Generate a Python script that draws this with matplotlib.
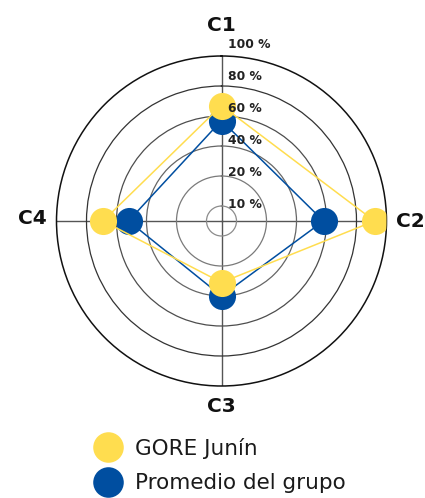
import numpy as np
import matplotlib
matplotlib.use("Agg")
import matplotlib.pyplot as plt
from matplotlib.lines import Line2D

categories = ["C1", "C2", "C3", "C4"]
gore_junin = [67, 92, 31, 69]
promedio = [57, 58, 40, 52]
series_names = ["GORE Junín", "Promedio del grupo"]
r_ticks = [0, 20, 40, 60, 80, 100]
r_tick_labels = ["10 %", "20 %", "40 %", "60 %", "80 %", "100 %"]

YELLOW = "#FFDD4F"
BLUE = "#004EA0"

fig = plt.figure(figsize=(4.25, 4.98), dpi=100)
fig.patch.set_facecolor("white")
ax = fig.add_axes([56.5 / 425, (277 - 165) / 498, 330 / 425, 330 / 498], projection="polar")
ax.set_theta_zero_location("N")
ax.set_theta_direction(-1)
ax.set_ylim(-10, 100)

angles = np.arange(len(categories)) * 2 * np.pi / len(categories)
closed = np.concatenate([angles, angles[:1]])

ax.set_xticks(angles)
ax.set_xticklabels([])
ax.set_yticks(r_ticks[:-1])
ax.set_yticklabels([])
ax.tick_params(length=0)
ax.xaxis.grid(True, color="#555555", linewidth=1.0)
ax.yaxis.grid(True, linewidth=0.9)
grid_cols = ["#8c8c8c", "#7a7a7a", "#666666", "#4d4d4d", "#333333"]
for gl, c in zip(ax.yaxis.get_gridlines(), grid_cols):
    gl.set_color(c)
ax.spines["polar"].set_color("#111111")
ax.spines["polar"].set_linewidth(1.1)

bv = promedio + promedio[:1]
yv = gore_junin + gore_junin[:1]
ax.plot(closed, bv, color=BLUE, linewidth=1.1, zorder=3)
ax.plot(angles, promedio, "o", color=BLUE, markersize=19.5, markeredgewidth=0, zorder=4)
ax.plot(closed, yv, color=YELLOW, linewidth=1.1, zorder=5)
ax.plot(angles, gore_junin, "o", color=YELLOW, markersize=19.5, markeredgewidth=0, zorder=6)

# category labels
offsets = [(0, 22), (17, 0), (0, -15), (-17.5, 1.5)]
for ang, cat, off in zip(angles, categories, offsets):
    ax.annotate(cat, xy=(ang, 100), xytext=off, textcoords="offset points",
                ha="center", va="center", fontsize=14.5, fontweight="bold",
                color="#111111", annotation_clip=False)

# radial labels
for k, lab in enumerate(r_tick_labels):
    ax.annotate(lab, xy=(0.5, 0.5), xycoords="axes fraction",
                xytext=(6.5 * 0.72, (17 + 32 * k) * 0.72), textcoords="offset points",
                ha="left", va="center", fontsize=8.9, fontweight="bold",
                color="#222222", zorder=7)

handles = [Line2D([], [], marker="o", linestyle="none", color=c, markersize=22,
                  markeredgewidth=0) for c in (YELLOW, BLUE)]
fig.legend(handles, series_names, loc="upper left", bbox_to_anchor=(94 / 425, 1 - 438 / 498),
           frameon=False, fontsize=15.5, handletextpad=0.6, labelspacing=0.67,
           handlelength=1.3, borderaxespad=0, borderpad=0, labelcolor="#1a1a1a")

fig.savefig("out.png", dpi=100, facecolor="white")
